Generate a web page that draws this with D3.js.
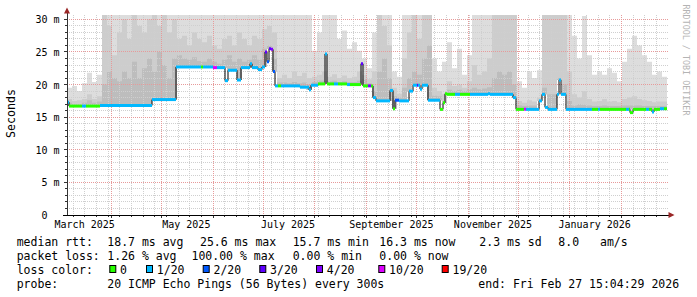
<!DOCTYPE html>
<html>
<head>
<meta charset="utf-8">
<script src="https://cdn.jsdelivr.net/npm/d3@7"></script>
<style>
html, body { margin: 0; padding: 0; background: #fff; }
svg { display: block; font-family: "DejaVu Sans Mono", monospace; }
</style>
</head>
<body>
<svg width="697" height="297"></svg>
<script>
// time window of the graph (360 days, ends Feb 2026)
const windowStart = "2025-03-05T09:36:00Z";
const windowDays = 360;
const yMax = 30.67; // ms at top of plot

const yTicks = [0, 5, 10, 15, 20, 25, 30];
const monthLabels = ["March 2025", "May 2025", "July 2025", "September 2025", "November 2025", "January 2026"];

// smoke, one value every 3 days (ms), 31 = off the top
const smokeStepDays = 3;
const smokeLight = [
  19.5, 19.8, 19.0, 20.2, 21.8, 20.4, 21.5, 31, 31, 31,
  31, 31, 31, 31, 31, 31, 31, 31, 31, 31,
  31, 31, 31, 31, 31, 31, 31, 31, 31, 31,
  31, 31, 31, 31, 31, 31, 31, 31, 31, 31,
  31, 31, 31, 31, 31, 31, 31, 31, 31, 25.2,
  28, 31, 31, 31, 27, 28.3, 25.5, 26.5, 25.2, 24,
  22.5, 28, 31, 31, 31, 22, 21.2, 31, 31, 31,
  31, 31, 31, 24, 22, 23.5, 26.5, 22.5, 25.5, 21.5,
  24.5, 31, 31, 31, 31, 31, 31, 31, 31, 31,
  20.5, 19.5, 22, 21, 22.2, 31, 31, 31, 31, 31,
  31, 27.5, 24, 30.5, 24.5, 21.5, 22, 21.5, 22.5, 21.8,
  20.5, 23.5, 25.5, 27.5, 26, 24.5, 23.5, 21.5, 22, 21.2
];
const smokeMid = [
  17.8, 17.5, 17.6, 17.8, 18.5, 17.8, 18.2, 31, 29, 24.5,
  28, 30, 27, 31, 29, 28, 30, 31, 29, 31,
  28, 30, 27, 27.5, 26, 28, 27, 26.5, 27.5, 26,
  25.5, 27, 27.5, 26, 28, 27, 26, 27.5, 27, 28.5,
  29, 28, 21, 21.5, 21, 22, 21.3, 21.8, 21, 21.2,
  21.5, 22, 21.2, 21.6, 21, 21.4, 21, 21.2, 22, 21.5,
  20.8, 22, 31, 29, 26, 19.5, 18.6, 24, 28, 31,
  27, 31, 31, 19.5, 19, 18.5, 20.5, 19.8, 20, 19.5,
  20.5, 23, 21.5, 22, 24, 31, 31, 31, 31, 31,
  17.5, 17.2, 17.6, 17.4, 18, 31, 31, 31, 31, 31,
  22, 18.5, 18, 19, 17.8, 17.4, 17.5, 17.8, 17.4, 17.5,
  17.3, 17.8, 18, 18.2, 17.8, 17.6, 17.5, 17.3, 17.4, 17.4
];
const smokeDark = [
  17.2, 17.0, 17.0, 17.2, 17.6, 17.2, 17.4, 20, 22, 21,
  20.5, 22, 21, 23.5, 21, 22.5, 24, 22, 25, 23,
  21, 24, 24.5, 24, 23.8, 24.2, 23.6, 23.5, 24, 23.5,
  23.2, 23.8, 24.5, 23.5, 24, 23.5, 23.8, 24.5, 23.8, 25.5,
  26, 24, 20.3, 20.3, 20.2, 20.4, 20.2, 20.3, 20, 20.4,
  20.6, 20.6, 20.5, 20.6, 20.4, 20.5, 20.4, 20.4, 20.6, 20.8,
  20.2, 19, 22, 24, 21, 18.2, 18, 19.5, 21, 22,
  21.5, 24, 26, 18.3, 18.2, 17.5, 19.2, 19, 19.2, 19,
  19.3, 19.5, 19.3, 19.4, 19.6, 21, 22, 21.5, 22, 20,
  16.8, 16.7, 16.8, 16.8, 17, 19.5, 18.5, 18.5, 21, 20,
  17.5, 16.8, 17, 16.9, 16.8, 16.7, 16.7, 16.8, 16.7, 16.7,
  16.7, 16.8, 16.8, 16.8, 16.8, 16.7, 16.7, 16.7, 16.7, 16.7
];

// median rtt: day in window where a level starts, value (ms), lost pings of 20
const medianDay = [
  0, 1.2, 9, 11.4, 19.8, 51, 65.4, 80.4, 81.6, 87.6,
  90, 94.8, 96.6, 102, 104.4, 109.8, 111, 114.6, 117, 118.8,
  120, 121.2, 122.4, 123.6, 124.8, 126.6, 128.4, 139.8, 145.2, 146.4,
  150.6, 154.8, 156, 160.2, 162.6, 168, 169.8, 176.4, 177.6, 180.6,
  182.4, 183.6, 185.4, 193.8, 195.6, 196.8, 199.2, 205.2, 207.6, 210,
  210.6, 211.8, 213, 216.6, 223.8, 225.6, 226.8, 228, 232.8, 235.8,
  241.8, 252.6, 253.8, 267.6, 269.4, 274.2, 275.4, 283.2, 285, 286.8,
  288.6, 294, 295.2, 296.4, 299.4, 315, 318.6, 319.8, 335.4, 337.2,
  337.8, 339.6, 347.4, 349.2, 351, 352.2, 355.8, 358.2
];
const medianMs = [
  17.3, 16.7, 16.7, 16.7, 16.8, 17.7, 22.7, 22.7, 22.7, 22.6,
  22.6, 20.6, 22.2, 20.7, 22.6, 23.2, 22.6, 22.3, 22.7, 25.0,
  23.5, 25.5, 25.4, 22.0, 19.8, 19.8, 19.8, 19.6, 19.2, 19.9,
  20.1, 24.7, 20.1, 20.1, 20.1, 20.0, 20.0, 23.2, 19.8, 19.8,
  19.8, 18.0, 17.5, 19.1, 16.3, 17.6, 17.5, 19.0, 19.9, 19.9,
  19.9, 19.3, 19.9, 17.6, 16.2, 17.2, 18.6, 18.5, 18.5, 18.5,
  18.5, 18.6, 18.5, 18.0, 16.2, 16.2, 16.2, 17.5, 18.5, 16.5,
  16.2, 18.5, 20.7, 18.5, 16.2, 16.2, 16.2, 16.2, 16.2, 16.2,
  15.7, 16.2, 16.2, 16.2, 15.8, 16.2, 16.3, 16.3
];
const medianLoss = [
  1, 0, 1, 0, 1, 1, 1, 0, 1, 10,
  1, 1, 1, 1, 1, 1, 1, 1, 1, 3,
  2, 3, 4, 2, 1, 0, 1, 1, 1, 1,
  0, 1, 0, 1, 0, 1, 0, 3, 0, 4,
  0, 1, 1, 1, 0, 2, 1, 1, 1, 3,
  1, 1, 1, 1, 0, 0, 0, 0, 1, 0,
  1, 1, 1, 1, 0, 10, 1, 1, 1, 1,
  1, 1, 1, 1, 1, 0, 1, 0, 1, 0,
  0, 0, 1, 0, 1, 0, 1, 0
];

// legend
const lossSteps = [0, 1, 2, 3, 4, 10, 19];
const lossLabels = ["0", "1/20", "2/20", "3/20", "4/20", "10/20", "19/20"];
const lossColors = ["#26ff00", "#00b8ff", "#0059ff", "#5e00ff", "#7e00ff", "#dd00ff", "#ff0000"];
const rttStats = ["18.7 ms avg", "25.6 ms max", "15.7 ms min", "16.3 ms now", "2.3 ms sd", "8.0", "am/s"];
const lossStats = ["1.26 % avg", "100.00 % max", "0.00 % min", "0.00 % now"];
const probeText = "20 ICMP Echo Pings (56 Bytes) every 300s";
const endText = "end: Fri Feb 27 15:04:29 2026";

const svg = d3.select("svg");
const t0 = new Date(windowStart);
const t1 = d3.utcDay.offset(t0, windowDays);
const dayToDate = d => new Date(+t0 + d * 864e5);

const x = d3.scaleUtc().domain([t0, t1]).range([67, 667]);
const y = d3.scaleLinear().domain([0, yMax / 1000]).range([215, 15]);
const ym = v => y(v / 1000); // values are in ms

const lossColor = n => lossColors[d3.bisectRight(lossSteps, n) - 1];
const medianAt = d => medianMs[Math.max(0, d3.bisectRight(medianDay, d) - 1)];

svg.append("defs").append("clipPath").attr("id", "plot")
  .append("rect").attr("x", 67).attr("y", 15).attr("width", 600).attr("height", 200);

// smoke
const smoke = svg.append("g").attr("clip-path", "url(#plot)");
[[smokeLight, "#dddddd"], [smokeMid, "#cdcdcd"], [smokeDark, "#bdbdbd"]].forEach(([vals, color]) => {
  const pts = vals.map((v, i) => {
    const d = i * smokeStepDays;
    return { d, lo: medianAt(d + smokeStepDays / 2), hi: v };
  });
  pts.push(Object.assign({}, pts[pts.length - 1], { d: windowDays }));
  const area = d3.area().curve(d3.curveStepAfter)
    .x(p => x(dayToDate(p.d)))
    .y0(p => ym(p.lo))
    .y1(p => ym(Math.max(p.lo, Math.min(p.hi, yMax))));
  smoke.append("path").datum(pts).attr("d", area).attr("fill", color);
});

// grid
const grid = svg.append("g").attr("shape-rendering", "crispEdges").attr("stroke-dasharray", "1,1");
d3.range(1, 31).filter(v => v % 5).forEach(v => {
  grid.append("line").attr("x1", 67).attr("x2", 668).attr("y1", ym(v)).attr("y2", ym(v)).attr("stroke", "#cfcfcf");
});
d3.utcSunday.range(t0, t1).forEach(t => {
  grid.append("line").attr("x1", x(t)).attr("x2", x(t)).attr("y1", 15).attr("y2", 215).attr("stroke", "#cfcfcf");
});
yTicks.filter(v => v > 0).forEach(v => {
  grid.append("line").attr("x1", 67).attr("x2", 668).attr("y1", ym(v)).attr("y2", ym(v)).attr("stroke", "#e79a9a");
});
d3.utcMonth.range(t0, t1).forEach(t => {
  grid.append("line").attr("x1", x(t)).attr("x2", x(t)).attr("y1", 15).attr("y2", 215).attr("stroke", "#e79a9a");
});

// median line: dark step line with colored level segments on top
const medPts = medianDay.map((d, i) => ({ d, v: medianMs[i], loss: medianLoss[i] }));
const stepLine = d3.line().curve(d3.curveStepAfter)
  .x(p => x(dayToDate(p.d))).y(p => ym(p.v));
const plot = svg.append("g").attr("clip-path", "url(#plot)");
plot.append("path")
  .datum(medPts.concat([Object.assign({}, medPts[medPts.length - 1], { d: windowDays })]))
  .attr("d", stepLine).attr("fill", "none").attr("stroke", "#000").attr("stroke-width", 1);
plot.selectAll("line.med").data(medPts).join("line").attr("class", "med")
  .attr("x1", p => x(dayToDate(p.d)))
  .attr("x2", (p, i) => x(dayToDate(i + 1 < medPts.length ? medPts[i + 1].d : windowDays)))
  .attr("y1", p => ym(p.v)).attr("y2", p => ym(p.v))
  .attr("stroke", p => lossColor(p.loss)).attr("stroke-width", 3);

// axes
const axes = svg.append("g").attr("shape-rendering", "crispEdges");
d3.range(1, 31).forEach(v => {
  axes.append("line").attr("x1", v % 5 ? 65 : 64).attr("x2", 67).attr("y1", ym(v)).attr("y2", ym(v)).attr("stroke", "#333");
});
d3.utcSunday.range(t0, t1).forEach(t => {
  axes.append("line").attr("x1", x(t)).attr("x2", x(t)).attr("y1", 215).attr("y2", 217).attr("stroke", "#333");
});
d3.utcMonth.range(t0, t1).forEach(t => {
  axes.append("line").attr("x1", x(t)).attr("x2", x(t)).attr("y1", 215).attr("y2", 218).attr("stroke", "#333");
});
axes.append("line").attr("x1", 67).attr("x2", 67).attr("y1", 216).attr("y2", 12).attr("stroke", "#333");
axes.append("line").attr("x1", 63).attr("x2", 670).attr("y1", 215).attr("y2", 215).attr("stroke", "#000");
svg.append("path").attr("d", "M67,7.5L64,13.5L70,13.5Z").attr("fill", "#9a2626");
svg.append("path").attr("d", "M674.5,215L668.5,212L668.5,218Z").attr("fill", "#9a2626");

// y labels
const yl = svg.append("g").attr("font-size", "10px").attr("fill", "#000");
yTicks.forEach(v => {
  yl.append("text").attr("x", 47.6).attr("y", ym(v) + 4).attr("text-anchor", "end").text(v);
  if (v > 0) yl.append("text").attr("x", 53.4).attr("y", ym(v) + 4).text("m");
});
svg.append("text").attr("transform", "translate(14.5,113.5) rotate(-90)")
  .attr("text-anchor", "middle").attr("font-size", "11.6px").text("Seconds");

// x labels, centered in the middle of the month
const parseMonth = d3.utcParse("%B %Y");
monthLabels.forEach(s => {
  const t = d3.utcDay.offset(parseMonth(s), 15);
  svg.append("text").attr("x", x(t)).attr("y", 228.3).attr("text-anchor", "middle")
    .attr("font-size", "10px").text(s);
});

// watermark
svg.append("text").attr("transform", "translate(683.3,60) rotate(90)")
  .attr("text-anchor", "middle").attr("font-size", "8.4px").attr("fill", "#b4b4b4")
  .text("RRDTOOL / TOBI OETIKER");

// legend
const lg = svg.append("g").attr("font-size", "11.5px").attr("fill", "#000").style("white-space", "pre");
const rowY = [245.5, 259.7, 273.9, 288];
const rttX = [107.3, 200, 292.7, 379.3, 479.3, 558.3, 600];
const lossX = [107.3, 191.5, 292.7, 379.3];
const boxX = [109.3, 146, 202.7, 259.3, 316, 378.3, 441.7];
lg.append("text").attr("x", 16.7).attr("y", rowY[0]).text("median rtt:");
rttStats.forEach((s, i) => lg.append("text").attr("x", rttX[i]).attr("y", rowY[0]).text(s));
lg.append("text").attr("x", 16.7).attr("y", rowY[1]).text("packet loss:");
lossStats.forEach((s, i) => lg.append("text").attr("x", lossX[i]).attr("y", rowY[1]).text(s));
lg.append("text").attr("x", 16.7).attr("y", rowY[2]).text("loss color:");
lossLabels.forEach((s, i) => {
  lg.append("rect").attr("x", boxX[i] + 0.5).attr("y", 265.5).attr("width", 6).attr("height", 7)
    .attr("fill", lossColors[i]).attr("stroke", "#000").attr("stroke-width", 1);
  lg.append("text").attr("x", boxX[i] + 10.8).attr("y", rowY[2]).text(s);
});
lg.append("text").attr("x", 16.7).attr("y", rowY[3]).text("probe:");
lg.append("text").attr("x", 107.3).attr("y", rowY[3]).text(probeText);
lg.append("text").attr("x", 478.3).attr("y", rowY[3]).text(endText);
</script>
</body>
</html>
